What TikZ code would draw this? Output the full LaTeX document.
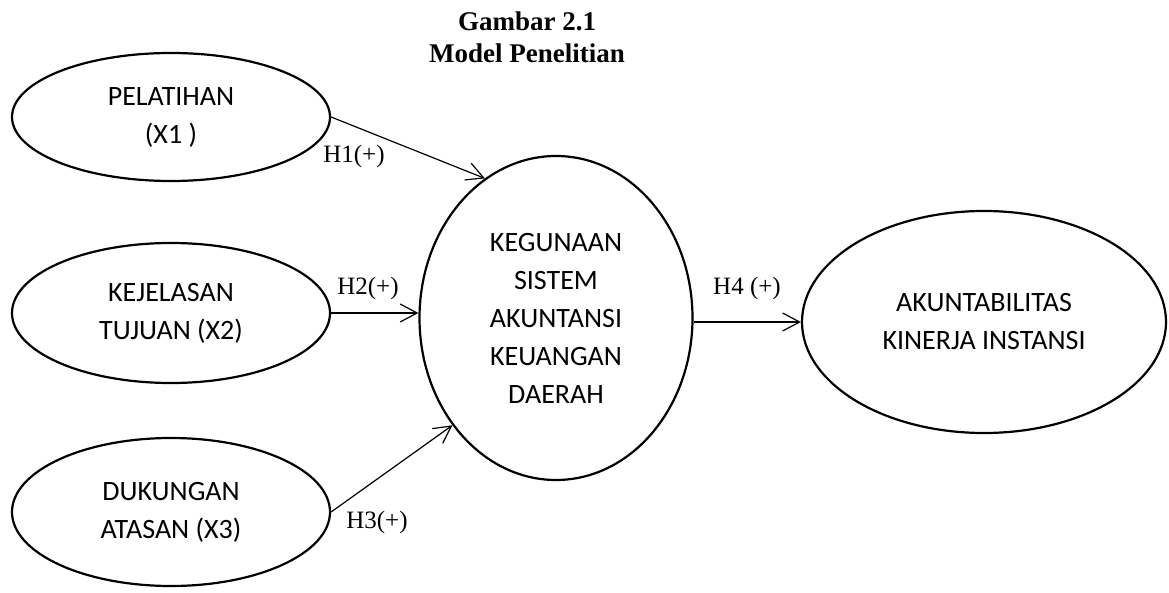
\documentclass[tikz,border=0pt]{standalone}
\usepackage{fontspec}
\setmainfont{Liberation Serif}
\newfontfamily\calibri{Carlito}
\usetikzlibrary{arrows.meta, shapes.geometric}

\begin{document}
\begin{tikzpicture}[
    x=1pt,
    y=-1pt,
    >={Straight Barb[length=17pt, width=18pt]},
    varbox/.style={
        draw,
        ellipse,
        line width=2.2pt,
        inner sep=0pt,
        align=center,
        font=\calibri\fontsize{28}{38}\selectfont
    },
    arr/.style={->, line width=1.2pt},
    hyp/.style={
        anchor=base,
        font=\fontsize{25}{30}\selectfont
    },
    titletext/.style={
        anchor=base,
        font=\bfseries\fontsize{27}{32}\selectfont
    }
]
\useasboundingbox (0,0) rectangle (1169,593);

% Title
\node[titletext] (title) at (527,31) {Gambar 2.1};
\node[titletext] (subtitle) at (527,63) {Model Penelitian};

% Independent variables
\node[varbox, minimum width=318pt, minimum height=128pt] (pel) at (171,117)
    {PELATIHAN\\(X1 )};
\node[varbox, minimum width=318pt, minimum height=140pt] (kej) at (171,313)
    {KEJELASAN\\TUJUAN (X2)};
\node[varbox, minimum width=318pt, minimum height=148pt] (duk) at (171,512)
    {DUKUNGAN\\ATASAN (X3)};

% Intervening variable
\node[varbox, minimum width=273pt, minimum height=324pt] (sakd) at (556,318)
    {KEGUNAAN\\SISTEM\\AKUNTANSI\\KEUANGAN\\DAERAH};

% Dependent variable
\node[varbox, minimum width=364pt, minimum height=222pt] (akip) at (984,322)
    {AKUNTABILITAS\\KINERJA INSTANSI};

% Hypotheses
\draw[arr] (pel.east) -- (sakd.117);
\draw[arr] (kej.east) -- (kej.east -| sakd.west);
\draw[arr] (duk.east) -- (sakd.226);
\draw[arr] (sakd.east |- akip.west) -- (akip.west);

\node[hyp] (h1) at (354,163) {H1(+)};
\node[hyp] (h2) at (368,295) {H2(+)};
\node[hyp] (h3) at (377,528) {H3(+)};
\node[hyp] (h4) at (747,295) {H4 (+)};

\end{tikzpicture}
\end{document}
